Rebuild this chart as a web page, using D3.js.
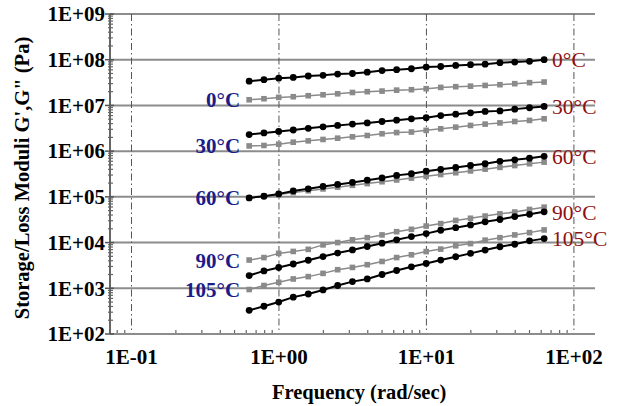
<!DOCTYPE html>
<html>
<head>
<meta charset="utf-8">
<script src="https://cdn.jsdelivr.net/npm/d3@7"></script>
<style>
  html, body { margin: 0; padding: 0; background: #fff; }
  svg text { font-family: "Liberation Serif", "Times New Roman", serif; }
</style>
</head>
<body>
<svg id="chart" width="618" height="406"></svg>
<script>
// angular frequency (rad/sec), 10 points per decade
var freqs = [0.628, 0.791, 0.996, 1.25, 1.58, 1.99, 2.5, 3.15, 3.97, 5.0, 6.28,
             7.91, 9.96, 12.5, 15.8, 19.9, 25.0, 31.5, 39.7, 50.0, 62.8];

var temps = ["0°C", "30°C", "60°C", "90°C", "105°C"];

// storage modulus G' (Pa)
var gp0   = [3.4e7, 3.65e7, 3.95e7, 4.1e7, 4.4e7, 4.55e7, 4.85e7, 5.0e7, 5.35e7, 5.8e7, 6.05e7,
             6.35e7, 6.9e7, 7.1e7, 7.5e7, 7.8e7, 8.0e7, 8.6e7, 8.9e7, 9.2e7, 1.0e8];
var gp30  = [2.3e6, 2.5e6, 2.7e6, 2.9e6, 3.15e6, 3.4e6, 3.65e6, 3.9e6, 4.15e6, 4.45e6, 4.75e6,
             5.1e6, 5.4e6, 6.0e6, 6.45e6, 6.9e6, 7.4e6, 7.6e6, 8.3e6, 8.9e6, 9.5e6];
var gp60  = [9.5e4, 1.03e5, 1.16e5, 1.35e5, 1.5e5, 1.69e5, 1.87e5, 2.07e5, 2.32e5, 2.6e5, 2.95e5,
             3.2e5, 3.65e5, 4.0e5, 4.4e5, 4.85e5, 5.3e5, 6.0e5, 6.45e5, 7.0e5, 7.7e5];
var gp90  = [1.9e3, 2.4e3, 2.85e3, 3.4e3, 4.1e3, 4.95e3, 5.9e3, 6.9e3, 8.2e3, 9.7e3, 1.15e4,
             1.35e4, 1.57e4, 1.86e4, 2.12e4, 2.43e4, 2.85e4, 3.2e4, 3.7e4, 4.15e4, 4.7e4];
var gp105 = [3.3e2, 4.05e2, 5.0e2, 6.4e2, 7.5e2, 9.2e2, 1.15e3, 1.4e3, 1.6e3, 2.0e3, 2.45e3,
             2.95e3, 3.5e3, 4.15e3, 4.9e3, 5.8e3, 6.85e3, 8.1e3, 9.2e3, 1.09e4, 1.22e4];

// loss modulus G" (Pa)
var gpp0   = [1.33e7, 1.4e7, 1.5e7, 1.55e7, 1.63e7, 1.71e7, 1.8e7, 1.92e7, 2.0e7, 2.06e7, 2.16e7,
              2.21e7, 2.32e7, 2.48e7, 2.57e7, 2.64e7, 2.74e7, 2.84e7, 2.99e7, 3.15e7, 3.25e7];
var gpp30  = [1.3e6, 1.33e6, 1.42e6, 1.57e6, 1.68e6, 1.8e6, 1.92e6, 2.06e6, 2.2e6, 2.4e6, 2.55e6,
              2.62e6, 2.85e6, 3.08e6, 3.35e6, 3.65e6, 3.9e6, 4.15e6, 4.45e6, 4.7e6, 5.1e6];
var gpp60  = [9.5e4, 1.03e5, 1.13e5, 1.24e5, 1.36e5, 1.49e5, 1.63e5, 1.79e5, 1.95e5, 2.14e5, 2.34e5,
              2.57e5, 2.81e5, 3.08e5, 3.37e5, 3.69e5, 4.04e5, 4.42e5, 4.84e5, 5.3e5, 5.75e5];
var gpp90  = [4.15e3, 4.7e3, 5.8e3, 6.4e3, 7.1e3, 8.9e3, 1.0e4, 1.15e4, 1.28e4, 1.47e4, 1.73e4,
              1.95e4, 2.3e4, 2.6e4, 3.05e4, 3.4e4, 3.8e4, 4.25e4, 4.65e4, 5.3e4, 5.95e4];
var gpp105 = [9.4e2, 1.15e3, 1.35e3, 1.6e3, 1.8e3, 2.12e3, 2.55e3, 2.86e3, 3.28e3, 3.86e3, 4.7e3,
              5.4e3, 6.35e3, 7.2e3, 8.5e3, 9.5e3, 1.13e4, 1.28e4, 1.47e4, 1.65e4, 1.89e4];

var storage = [gp0, gp30, gp60, gp90, gp105];
var loss    = [gpp0, gpp30, gpp60, gpp90, gpp105];

var xTicks = [0.1, 1, 10, 100];
var xTickLabels = ["1E-01", "1E+00", "1E+01", "1E+02"];
var yTicks = [1e2, 1e3, 1e4, 1e5, 1e6, 1e7, 1e8, 1e9];
var yTickLabels = ["1E+02", "1E+03", "1E+04", "1E+05", "1E+06", "1E+07", "1E+08", "1E+09"];

drawChart();

function drawChart() {
	var svg = d3.select("#chart"),
		margin = {top: 14, right: 23, bottom: 72, left: 110},
		width = +svg.attr("width") - margin.left - margin.right,
		height = +svg.attr("height") - margin.top - margin.bottom,
		g = svg.append("g").attr("transform", "translate(" + margin.left + "," + margin.top + ")");

	var x = d3.scaleLog().domain([0.0715, 139]).range([0, width]);
	var y = d3.scaleLog().domain([1e2, 1e9]).range([height, 0]);

	var gridColor = "#8c8c8c";
	var leftColor = "#1b1b8a";
	var rightColor = "#8e1010";

	// horizontal grid lines (solid)
	g.selectAll(".hgrid")
		.data(yTicks.slice(1))
		.enter().append("line")
		.attr("class", "hgrid")
		.attr("x1", 0).attr("x2", width)
		.attr("y1", function(d) { return y(d); })
		.attr("y2", function(d) { return y(d); })
		.attr("stroke", gridColor)
		.attr("stroke-width", 2);

	// vertical grid lines (dash-dot)
	g.selectAll(".vgrid")
		.data(xTicks)
		.enter().append("line")
		.attr("class", "vgrid")
		.attr("x1", function(d) { return x(d); })
		.attr("x2", function(d) { return x(d); })
		.attr("y1", 0).attr("y2", height)
		.attr("stroke", "#555")
		.attr("stroke-width", 1)
		.attr("stroke-dasharray", "7,3,1.5,3");

	// minor ticks
	var xMinor = x.ticks().filter(function(d) { return xTicks.indexOf(d) < 0; });
	var yMinor = y.ticks().filter(function(d) { return yTicks.indexOf(d) < 0; });

	g.selectAll(".xminor")
		.data(xMinor)
		.enter().append("line")
		.attr("x1", function(d) { return x(d); })
		.attr("x2", function(d) { return x(d); })
		.attr("y1", height).attr("y2", height - 4)
		.attr("stroke", "#666").attr("stroke-width", 1.2);

	g.selectAll(".yminor")
		.data(yMinor)
		.enter().append("line")
		.attr("x1", -2).attr("x2", 3)
		.attr("y1", function(d) { return y(d); })
		.attr("y2", function(d) { return y(d); })
		.attr("stroke", "#666").attr("stroke-width", 1.2);

	// axes lines + major ticks
	g.append("line")
		.attr("x1", 0).attr("x2", width)
		.attr("y1", height).attr("y2", height)
		.attr("stroke", gridColor).attr("stroke-width", 2);
	g.append("line")
		.attr("x1", 0).attr("x2", 0)
		.attr("y1", 0).attr("y2", height)
		.attr("stroke", "#666").attr("stroke-width", 2);

	g.selectAll(".ymajor")
		.data(yTicks)
		.enter().append("line")
		.attr("x1", -5).attr("x2", 4)
		.attr("y1", function(d) { return y(d); })
		.attr("y2", function(d) { return y(d); })
		.attr("stroke", "#555").attr("stroke-width", 1.5);

	// tick labels
	g.selectAll(".ylab")
		.data(yTicks)
		.enter().append("text")
		.attr("x", -5)
		.attr("y", function(d) { return y(d); })
		.attr("dy", "0.35em")
		.attr("text-anchor", "end")
		.attr("font-size", "21px")
		.attr("font-weight", "bold")
		.text(function(d, i) { return yTickLabels[i]; });

	g.selectAll(".xlab")
		.data(xTicks)
		.enter().append("text")
		.attr("x", function(d) { return x(d); })
		.attr("y", height + 30)
		.attr("text-anchor", "middle")
		.attr("font-size", "21px")
		.attr("font-weight", "bold")
		.text(function(d, i) { return xTickLabels[i]; });

	// axis titles
	svg.append("text")
		.attr("x", margin.left + x(3.5))
		.attr("y", 399)
		.attr("text-anchor", "middle")
		.attr("font-size", "20.5px")
		.attr("font-weight", "bold")
		.text("Frequency (rad/sec)");

	svg.append("text")
		.attr("transform", "translate(29," + (margin.top + height / 2 + 4) + ") rotate(-90)")
		.attr("text-anchor", "middle")
		.attr("font-size", "20.5px")
		.attr("font-weight", "bold")
		.text("Storage/Loss Moduli G',G\" (Pa)");

	var line = d3.line()
		.x(function(d) { return x(d[0]); })
		.y(function(d) { return y(d[1]); });

	function pairs(vals) {
		return vals.map(function(v, i) { return [freqs[i], v]; });
	}

	// loss modulus: grey squares
	loss.forEach(function(vals) {
		var pts = pairs(vals);
		g.append("path")
			.attr("d", line(pts))
			.attr("fill", "none")
			.attr("stroke", "#8a8a8a")
			.attr("stroke-width", 1.5);
		g.selectAll(null)
			.data(pts)
			.enter().append("rect")
			.attr("x", function(d) { return x(d[0]) - 2.8; })
			.attr("y", function(d) { return y(d[1]) - 2.8; })
			.attr("width", 5.6).attr("height", 5.6)
			.attr("fill", "#8a8a8a");
	});

	// storage modulus: black circles
	storage.forEach(function(vals) {
		var pts = pairs(vals);
		g.append("path")
			.attr("d", line(pts))
			.attr("fill", "none")
			.attr("stroke", "#000")
			.attr("stroke-width", 2);
		g.selectAll(null)
			.data(pts)
			.enter().append("circle")
			.attr("cx", function(d) { return x(d[0]); })
			.attr("cy", function(d) { return y(d[1]); })
			.attr("r", 3.4)
			.attr("fill", "#000");
	});

	// temperature labels: left at first G" point, right at last G' point
	var last = freqs.length - 1;
	temps.forEach(function(t, i) {
		g.append("text")
			.attr("x", x(freqs[0]) - 9)
			.attr("y", y(loss[i][0]))
			.attr("dy", "0.36em")
			.attr("text-anchor", "end")
			.attr("font-size", "21px")
			.attr("font-weight", "bold")
			.attr("fill", leftColor)
			.text(t);
		g.append("text")
			.attr("x", x(freqs[last]) + 8)
			.attr("y", y(storage[i][last]))
			.attr("dy", "0.36em")
			.attr("font-size", "21.5px")
			.attr("fill", rightColor)
			.text(t);
	});
}
</script>
</body>
</html>
